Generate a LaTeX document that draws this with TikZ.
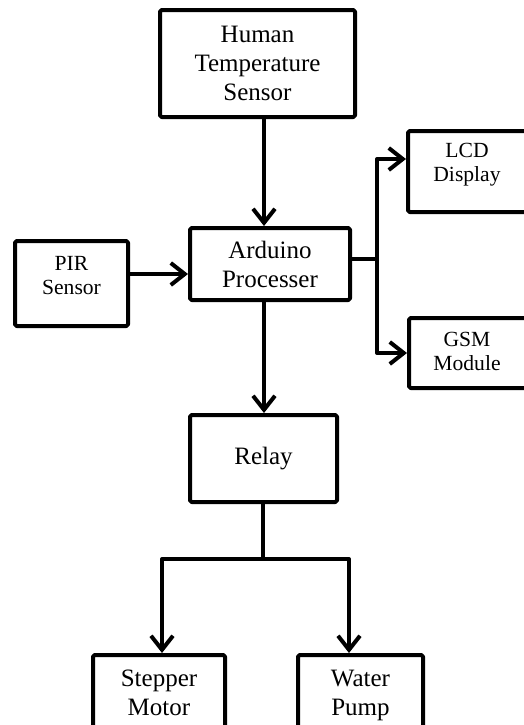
\documentclass[tikz,border=0pt]{standalone}
\usepackage{fontspec}
\setmainfont{Liberation Serif}
\usetikzlibrary{arrows.meta}
\begin{document}
\begin{tikzpicture}[x=0.5pt,y=-0.5pt,
  box/.style={draw, line width=2pt, line join=round, rounded corners=0.8pt, inner sep=0pt, align=center, font=\fontsize{12.5}{14.5}\selectfont},
  smallbox/.style={box, font=\fontsize{10.8}{12}\selectfont},
  lbl/.style={align=center, font=\fontsize{10.8}{12}\selectfont},
  biglbl/.style={align=center, font=\fontsize{12.5}{14.5}\selectfont},
  arr/.style={line width=2pt, line join=round, -{Straight Barb[length=7pt,width=11pt,line width=2pt]}},
  wire/.style={line width=2pt, line join=round}]
\clip (0,0) rectangle (524,725);

\node[box, minimum width=97.5pt, minimum height=53.5pt] (hts) at (257.5,63.5) {Human\\Temperature\\Sensor};
\node[box, minimum width=80pt, minimum height=36pt] (ard) at (270,264) {Arduino\\Processer};
\node[smallbox, minimum width=56.5pt, minimum height=42.5pt,
      label={[lbl, yshift=4pt]center:PIR\\Sensor}] (pir) at (71.5,283.5) {};
\node[smallbox, minimum width=66pt, minimum height=40.5pt,
      label={[lbl, xshift=-3.5pt, yshift=3.5pt]center:LCD\\Display}] (lcd) at (474,171.5) {};
\node[smallbox, minimum width=65.5pt, minimum height=35pt,
      label={[lbl, xshift=-3.75pt, yshift=1pt]center:GSM\\Module}] (gsm) at (474.5,353) {};
\node[box, minimum width=73.5pt, minimum height=43.5pt] (relay) at (263.5,458.5) {Relay};
\node[box, minimum width=66pt, minimum height=42.5pt,
      label={[biglbl, yshift=2.5pt]center:Stepper\\Motor}] (stepper) at (159,697.5) {};
\node[box, minimum width=62.5pt, minimum height=42.5pt,
      label={[biglbl, yshift=1pt]center:Water\\Pump}] (pump) at (360.5,697.5) {};

\coordinate (ax) at (264,0);
\coordinate (py) at (0,274);
\coordinate (bus) at (377,259);
\coordinate (lcdy) at (0,159);
\coordinate (gsmy) at (0,353);
\coordinate (split) at (263,559);
\coordinate (sl) at (162,0);
\coordinate (sr) at (349,0);

\draw[arr] (hts.south -| ax) -- (ard.north -| ax);
\draw[arr] (pir.east |- py) -- (ard.west |- py);
\draw[arr] (ard.east |- bus) -- (bus) |- (lcd.west |- lcdy);
\draw[arr] (ard.east |- bus) -- (bus) |- (gsm.west |- gsmy);
\draw[arr] (ard.south -| ax) -- (relay.north -| ax);
\draw[arr] (relay.south -| split) -- (split) -| (stepper.north -| sl);
\draw[arr] (relay.south -| split) -- (split) -| (pump.north -| sr);
\end{tikzpicture}
\end{document}
